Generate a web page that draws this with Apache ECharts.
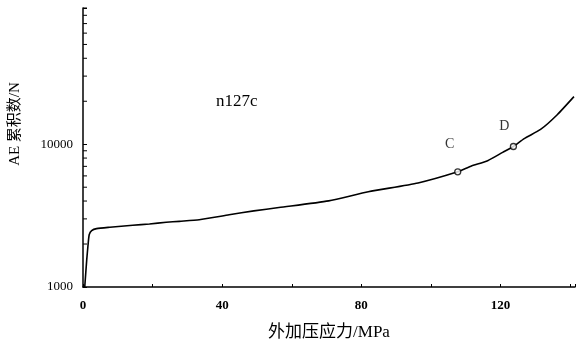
<!DOCTYPE html>
<html>
<head>
<meta charset="utf-8">
<script src="https://cdn.jsdelivr.net/npm/echarts@6/dist/echarts.min.js"></script>
<style>html,body{margin:0;padding:0;background:#fff;}#c{width:578px;height:346px;}</style>
</head>
<body>
<div id="c"></div>
<script>
var stress = [0.5, 1.06, 1.51, 1.8, 2.49, 3.9, 7.7, 14.3, 19.1, 23.9, 27.7, 33.4, 42.0, 49.1, 56.3, 70.6, 82.0, 96.3, 107.7, 111.5, 116.3, 120.6, 123.7, 126.8, 131.5, 136.3, 141.1];
var aeCount = [1000, 1535, 2044, 2332, 2484, 2564, 2622, 2706, 2762, 2838, 2884, 2958, 3203, 3414, 3603, 4011, 4645, 5357, 6412, 7017, 7674, 8770, 9640, 10945, 12690, 16100, 21540];
var markNames = ['C', 'D'];
var markX = [107.7, 123.7];
var markY = [6412, 9640];
var xTickLabels = [0, 40, 80, 120];
var yTickLabels = [1000, 10000];
var yMinorTicks = [2000, 3000, 4000, 5000, 6000, 7000, 8000, 9000, 20000, 30000, 40000, 50000, 60000, 70000, 80000, 90000];

var serif = '"Liberation Serif", "Times New Roman", serif';
var cjk = '"Liberation Serif", "Noto Sans CJK SC", serif';
var chart = echarts.init(document.getElementById('c'));
chart.setOption({
  animation: false,
  grid: {left: 83, right: 0, top: 8, bottom: 56},
  xAxis: {
    type: 'value', min: 0, max: 141.4, interval: 20,
    name: '外加压应力/MPa', nameLocation: 'middle', nameGap: 37,
    nameTextStyle: {fontFamily: cjk, fontSize: 17, color: '#000'},
    axisLine: {lineStyle: {color: '#000', width: 1.5}},
    axisTick: {inside: true, length: 3, lineStyle: {color: '#000'}},
    axisLabel: {
      fontFamily: serif, fontSize: 13, fontWeight: 'bold', color: '#000', margin: 12,
      formatter: function (v) { return xTickLabels.indexOf(v) >= 0 ? String(v) : ''; }
    },
    splitLine: {show: false}
  },
  yAxis: {
    type: 'log', logBase: 10, min: 1000, max: 90000,
    axisLine: {show: true, lineStyle: {color: '#000', width: 1.5}},
    axisTick: {show: true, inside: true, length: 4, lineStyle: {color: '#000'}},
    axisLabel: {
      fontFamily: serif, fontSize: 13, color: '#000', margin: 10,
      formatter: function (v) { return yTickLabels.indexOf(Math.round(v)) >= 0 ? String(Math.round(v)) : ''; }
    },
    splitLine: {show: false}
  },
  graphic: [
    {type: 'text', left: 216, top: 93, style: {text: 'n127c', fontFamily: serif, fontSize: 17, fill: '#000'}},
    {type: 'text', x: 15, y: 124, rotation: Math.PI / 2,
     style: {text: 'AE 累积数/N', fontFamily: cjk, fontSize: 15, fill: '#000', align: 'center', verticalAlign: 'middle'}}
  ],
  series: [
    {
      type: 'line', data: stress.map(function (x, i) { return [x, aeCount[i]]; }),
      smooth: 0.2, showSymbol: false, lineStyle: {color: '#000', width: 1.6, join: 'round'}, z: 2
    },
    {
      type: 'scatter', data: markX.map(function (x, i) { return {value: [x, markY[i]], name: markNames[i]}; }),
      symbol: 'circle', symbolSize: 6,
      itemStyle: {color: '#fff', borderColor: '#000', borderWidth: 1.3}, z: 3,
      label: {
        show: true, formatter: '{b}', fontFamily: serif, fontSize: 14, color: '#000', position: 'inside'
      },
      labelLayout: function (p) {
        var off = p.dataIndex === 0 ? [-8, -27] : [-9, -20];
        return {x: p.rect.x + p.rect.width / 2 + off[0], y: p.rect.y + p.rect.height / 2 + off[1], align: 'center', verticalAlign: 'middle'};
      }
    },
    {
      type: 'custom', data: yMinorTicks.map(function (v) { return [0, v]; }), silent: true, z: 1,
      renderItem: function (params, api) {
        var p = api.coord([api.value(0), api.value(1)]);
        return {type: 'line', shape: {x1: p[0], y1: p[1], x2: p[0] + 4, y2: p[1]}, style: {stroke: '#000', lineWidth: 1}};
      }
    }
  ]
});
</script>
</body>
</html>
